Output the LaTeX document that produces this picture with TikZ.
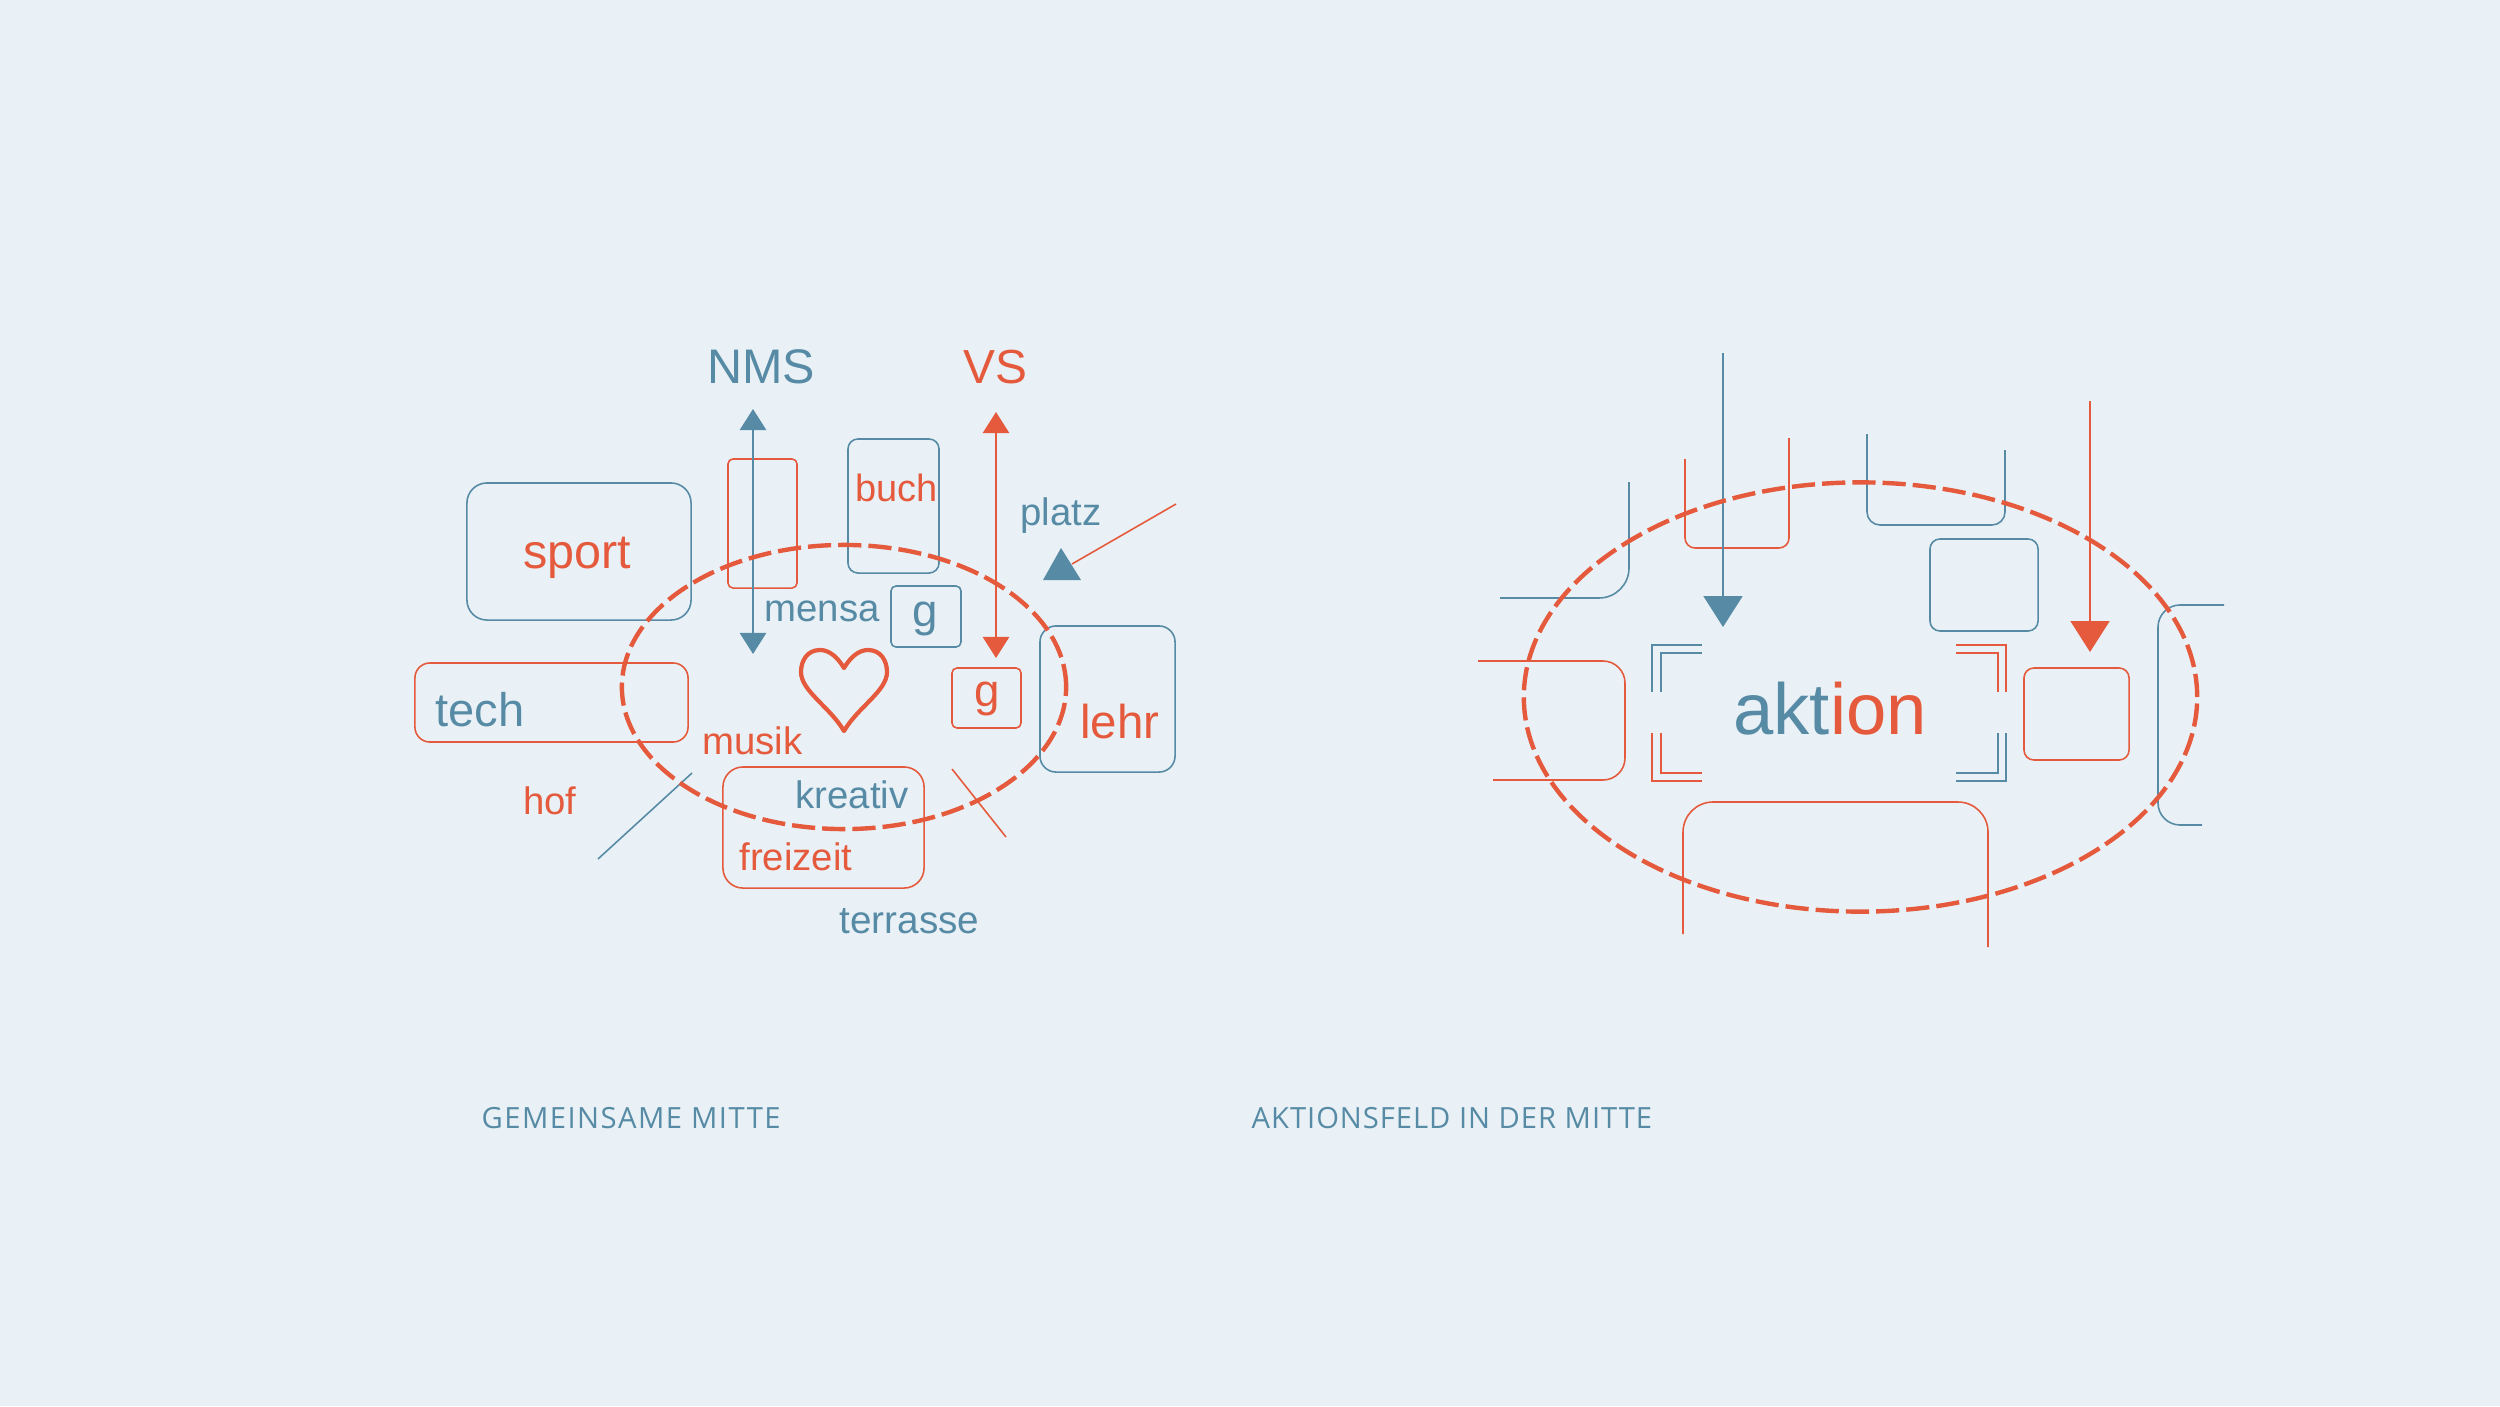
\documentclass[tikz,border=0pt]{standalone}
\usepackage{fontspec}
\setmainfont{Liberation Sans}
\newfontfamily\capfont[LetterSpace=5.0]{Open Sans}
\newfontfamily\capfontb[LetterSpace=3.3]{Open Sans}
\usepackage{tikz}
\usetikzlibrary{positioning,arrows.meta,shapes.geometric}
\definecolor{bgblue}{HTML}{E9F1F6}
\definecolor{nmsblue}{HTML}{578BA5}
\definecolor{vsred}{HTML}{E55A3C}

\begin{document}
\begin{tikzpicture}[
    x=0.01cm, y=-0.01cm,
    bluebox/.style={draw=nmsblue, line width=0.45pt, inner sep=0pt},
    redbox/.style={draw=vsred, line width=0.45pt, inner sep=0pt},
    txt/.style={inner sep=0pt, anchor=base},
    bluetxt/.style={txt, text=nmsblue},
    redtxt/.style={txt, text=vsred},
    field/.style={draw=vsred, ellipse, inner sep=0pt, line width=1.25pt, dash pattern=on 6.6pt off 2pt},
    bluethin/.style={draw=nmsblue, line width=0.45pt},
    redthin/.style={draw=vsred, line width=0.45pt},
    smalltips/.style={line width=0.5pt, {Triangle[length=6pt,width=7.5pt]}-{Triangle[length=6pt,width=7.5pt]}},
    bigtip/.style={line width=0.5pt, -{Triangle[length=8.8pt,width=11.1pt]}},
    caption/.style={inner sep=0pt, anchor=base west, text=nmsblue},
]
\fill[bgblue] (0,-1) rectangle (2500,1405);
\useasboundingbox (0,-1) rectangle (2500,1405);

% gemeinsame mitte
\node[bluebox, rounded corners=0.2cm, minimum width=2.24cm, minimum height=1.37cm] (sportbox) at (579,550.5) {};
\node[redbox, rounded corners=0.05cm, minimum width=0.69cm, minimum height=1.29cm] (mensabox) at (762.5,522.5) {};
\node[bluebox, rounded corners=0.1cm, minimum width=0.91cm, minimum height=1.34cm] (buchbox) at (893.5,505) {};
\node[bluebox, rounded corners=0.05cm, minimum width=0.70cm, minimum height=0.61cm] (gblue) at (926,615.5) {};
\node[redbox, rounded corners=0.05cm, minimum width=0.69cm, minimum height=0.60cm] (gred) at (986.5,697) {};
\node[redbox, rounded corners=0.15cm, minimum width=2.73cm, minimum height=0.79cm] (techbox) at (551.5,701.5) {};
\node[redbox, rounded corners=0.2cm, minimum width=2.01cm, minimum height=1.21cm] (freizeitbox) at (823.5,826.5) {};
\node[bluebox, rounded corners=0.16cm, minimum width=1.35cm, minimum height=1.46cm] (lehrbox) at (1107.5,698) {};

\node[bluetxt, font=\fontsize{13.8}{16}\selectfont] (nms) at (761,382) {NMS};
\node[redtxt, font=\fontsize{13.6}{16}\selectfont] (vs) at (995,382) {VS};
\node[redtxt, font=\fontsize{13.8}{16}\selectfont] (sport) at (577,567) {sport};
\node[redtxt, font=\fontsize{10.8}{13}\selectfont] (buch) at (896.5,500) {buch};
\node[bluetxt, font=\fontsize{10.9}{13}\selectfont] (platz) at (1061,524) {platz};
\node[bluetxt, font=\fontsize{10.9}{13}\selectfont] (mensa) at (822,620) {mensa};
\node[bluetxt, font=\fontsize{13}{16}\selectfont] (gb) at (925,625) {g};
\node[redtxt, font=\fontsize{13}{16}\selectfont] (gr) at (987,705) {g};
\node[bluetxt, font=\fontsize{13.4}{16}\selectfont] (tech) at (480,725) {tech};
\node[redtxt, font=\fontsize{10.9}{13}\selectfont] (musik) at (752.5,753) {musik};
\node[redtxt, font=\fontsize{10.9}{13}\selectfont] (hof) at (550,813) {hof};
\node[bluetxt, font=\fontsize{10.9}{13}\selectfont] (kreativ) at (852,807) {kreativ};
\node[redtxt, font=\fontsize{10.9}{13}\selectfont] (freizeit) at (796,869) {freizeit};
\node[bluetxt, font=\fontsize{11}{13}\selectfont] (terrasse) at (909.5,932) {terrasse};
\node[redtxt, font=\fontsize{13.5}{16}\selectfont] (lehr) at (1120,737) {lehr};

\coordinate (nmstop) at (753,408);
\coordinate (nmsbot) at (753,653);
\coordinate (vstop) at (996,411);
\coordinate (vsbot) at (996,657);
\draw[smalltips, nmsblue] (nmstop) -- (nmsbot);
\draw[smalltips, vsred] (vstop) -- (vsbot);

\coordinate (platzfoot) at (1072,563);
\coordinate (platzend) at (1176,503);
\draw[redthin] (platzend) -- (platzfoot);
\fill[nmsblue] (1061,547) -- (1081,579) -- (1043,579) -- cycle;

\coordinate (hofa) at (692,772);
\coordinate (hofb) at (598,858);
\coordinate (crossa) at (952,768);
\coordinate (crossb) at (1006,836);
\draw[bluethin] (hofa) -- (hofb);
\draw[redthin] (crossa) -- (crossb);

% herz
\draw[vsred, line width=1.2pt, line join=round] (844,667)
    .. controls (835,652) and (826,649) .. (820,649)
    .. controls (807,649) and (801,660) .. (801,671)
    .. controls (801,690) and (830,706) .. (844,730)
    .. controls (858,706) and (887,690) .. (887,671)
    .. controls (887,660) and (881,649) .. (868,649)
    .. controls (862,649) and (853,652) .. (844,667) -- cycle;

\node[field, minimum width=4.44cm, minimum height=2.84cm] (mitte) at (844,686) {};

% aktionsfeld
\draw[bluethin, rounded corners=0.3cm] (1629,481) -- (1629,597) -- (1500,597);
\draw[redthin, rounded corners=0.1cm] (1685,458) -- (1685,547) -- (1789,547) -- (1789,437);
\draw[bluethin, rounded corners=0.13cm] (1867,433) -- (1867,524) -- (2005,524) -- (2005,449);
\draw[bluethin, rounded corners=0.22cm] (2224,604) -- (2158,604) -- (2158,824) -- (2202,824);
\draw[redthin, rounded corners=0.22cm] (1478,660) -- (1625,660) -- (1625,779) -- (1493,779);
\draw[redthin, rounded corners=0.3cm] (1683,933) -- (1683,801) -- (1988,801) -- (1988,946);

\node[bluebox, rounded corners=0.1cm, minimum width=1.08cm, minimum height=0.92cm] (oben) at (1984,584) {};
\node[redbox, rounded corners=0.1cm, minimum width=1.05cm, minimum height=0.92cm] (rechts) at (2076.5,713) {};

\coordinate (bluestart) at (1723,352);
\coordinate (blueend) at (1723,626);
\coordinate (redstart) at (2090,400);
\coordinate (redend) at (2090,651);
\draw[bigtip, nmsblue] (bluestart) -- (blueend);
\draw[bigtip, vsred] (redstart) -- (redend);

\foreach \ox/\ix/\ex/\oy/\iy/\ey/\col in {
    1652/1661/1702/644/652/691/nmsblue,
    1652/1661/1702/780/772/732/vsred,
    2006/1998/1956/644/652/691/vsred,
    2006/1998/1956/780/772/732/nmsblue} {
    \draw[draw=\col, line width=0.45pt] (\ex,\oy) -- (\ox,\oy) -- (\ox,\ey);
    \draw[draw=\col, line width=0.45pt] (\ex,\iy) -- (\ix,\iy) -- (\ix,\ey);
}

\node[txt, font=\fontsize{20.6}{24}\selectfont] (aktion) at (1830,733)
    {\textcolor{nmsblue}{akt}\textcolor{vsred}{ion}};

\node[field, minimum width=6.73cm, minimum height=4.29cm] (feld) at (1860.5,696) {};

\node[caption, font=\capfont\fontsize{8.3}{10}\selectfont] (capleft) at (481,1127) {GEMEINSAME MITTE};
\node[caption, font=\capfontb\fontsize{8.3}{10}\selectfont] (capright) at (1251,1127) {AKTIONSFELD IN DER MITTE};
\end{tikzpicture}
\end{document}
